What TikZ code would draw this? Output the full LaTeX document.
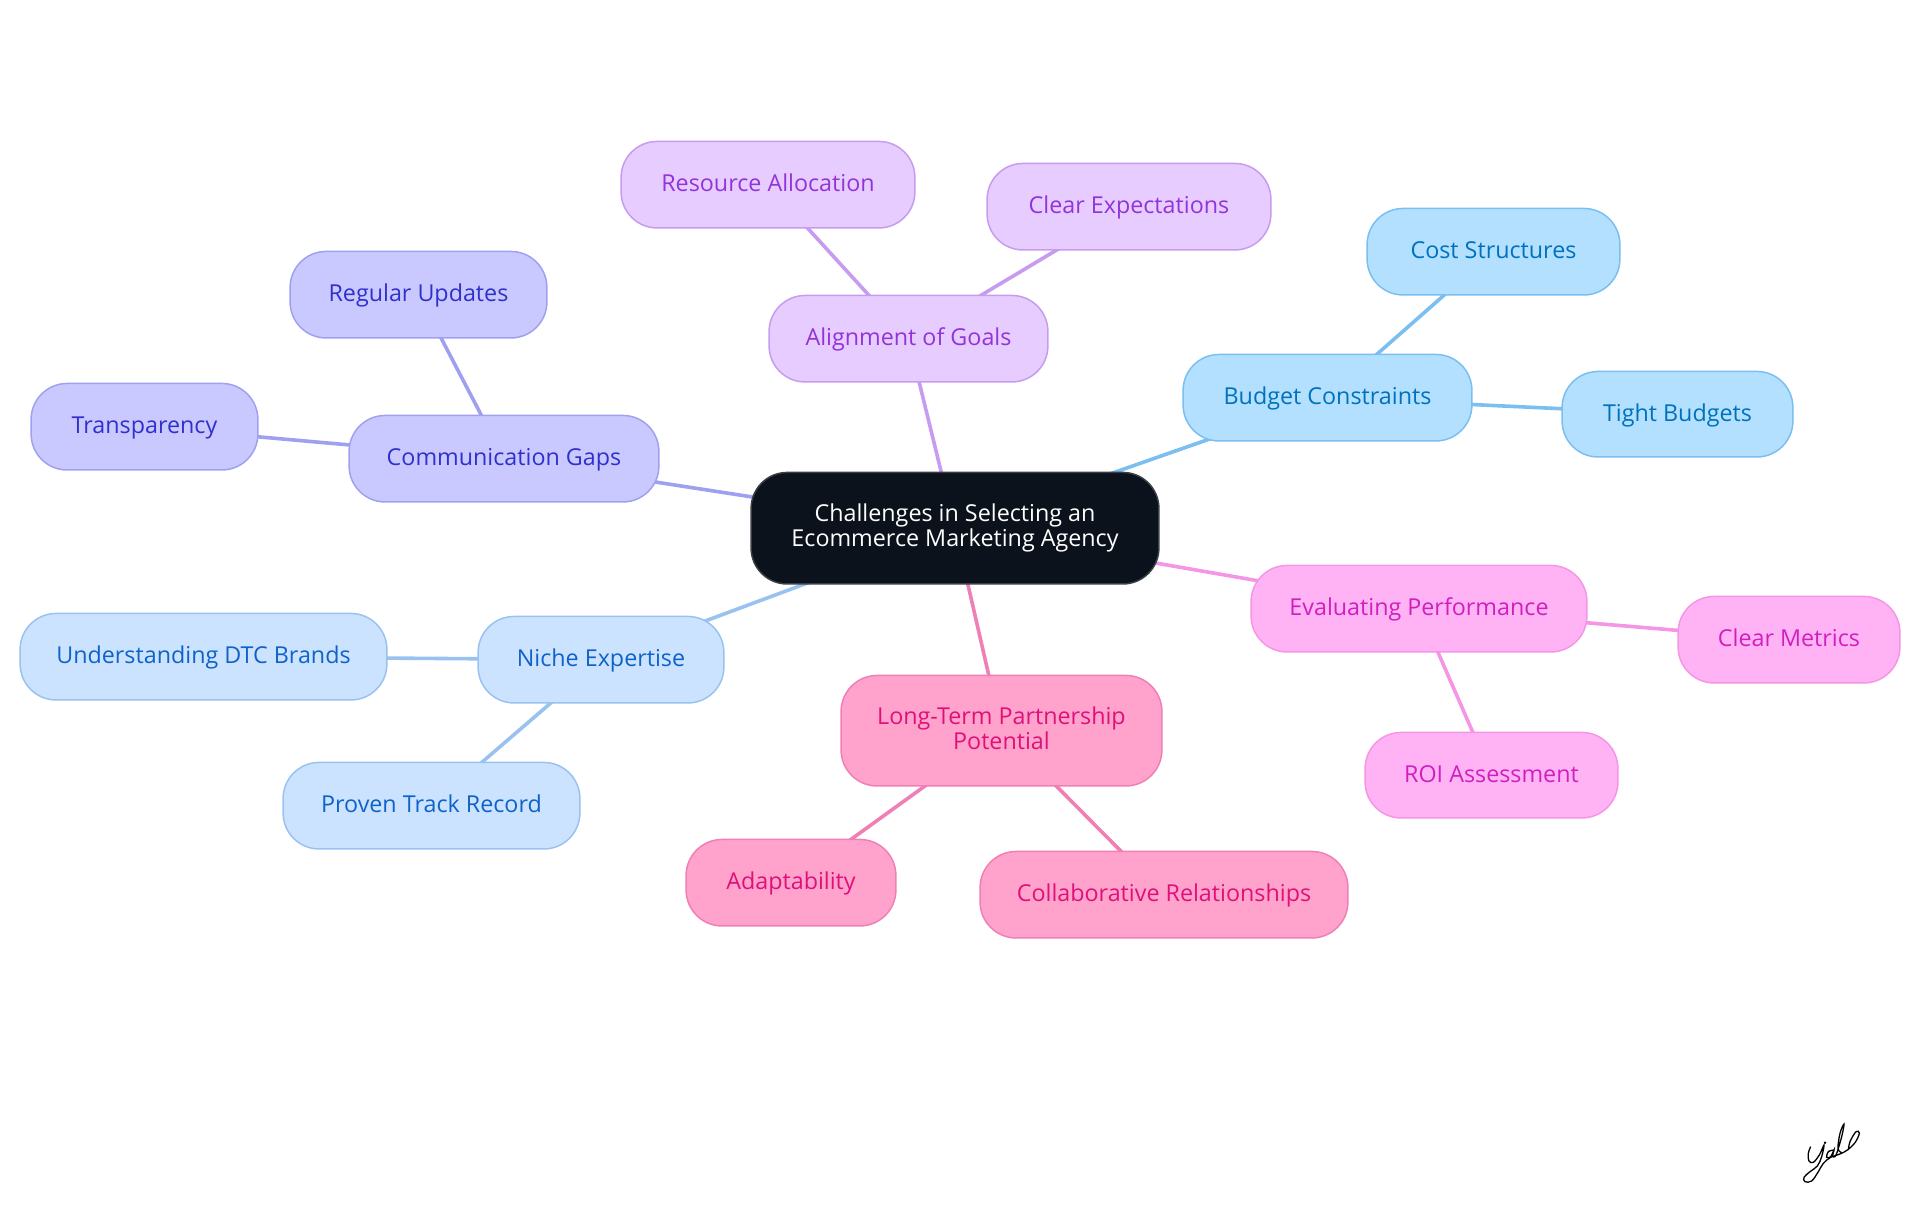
\documentclass[tikz,border=0pt]{standalone}
\usepackage{fontspec}
\setmainfont{Open Sans}
\usetikzlibrary{backgrounds}
\definecolor{bF}{HTML}{B3E0FF}\definecolor{bS}{HTML}{7ABFF0}\definecolor{bT}{HTML}{0071BC}
\definecolor{pF}{HTML}{E6CCFF}\definecolor{pS}{HTML}{C79BEF}\definecolor{pT}{HTML}{9333DB}
\definecolor{iF}{HTML}{C9C9FF}\definecolor{iS}{HTML}{A0A0F0}\definecolor{iT}{HTML}{3030CC}
\definecolor{lF}{HTML}{CCE3FF}\definecolor{lS}{HTML}{99C2F0}\definecolor{lT}{HTML}{0F62C8}
\definecolor{rF}{HTML}{FFA3CC}\definecolor{rS}{HTML}{F07FB5}\definecolor{rT}{HTML}{E0107A}
\definecolor{mF}{HTML}{FFB3F5}\definecolor{mS}{HTML}{F595E5}\definecolor{mT}{HTML}{D01FBF}
\definecolor{kF}{HTML}{0B121B}\definecolor{kS}{HTML}{3A3F46}
\newcommand{\topstrut}{\rule{0pt}{22.5pt}}
\newcommand{\botstrut}{\rule[-8.3pt]{0pt}{8.3pt}}
\newcommand{\lowline}[1]{\raisebox{-2.4pt}{#1}}
\tikzset{
 x=1pt,y=-1pt,
 nd/.style={rectangle,rounded corners=36pt,line width=1.5pt,inner sep=0pt,align=center,yshift=-0.2pt,
  font=\fontsize{23.3}{25}\selectfont,execute at begin node=\topstrut,execute at end node=\botstrut},
 sz/.style 2 args={minimum width=#1pt-0.2pt,minimum height=#2pt-0.5pt},
 bn/.style={nd,fill=bF,draw=bS,text=bT},
 pn/.style={nd,fill=pF,draw=pS,text=pT},
 inn/.style={nd,fill=iF,draw=iS,text=iT},
 ln/.style={nd,fill=lF,draw=lS,text=lT},
 rn/.style={nd,fill=rF,draw=rS,text=rT},
 mn/.style={nd,fill=mF,draw=mS,text=mT},
 kn/.style={nd,fill=kF,draw=kS,text=white},
 ed/.style={line width=3.6pt},
}
\begin{document}
\begin{tikzpicture}
\useasboundingbox (0,0) rectangle (1920,1215);
\node[kn,sz={408}{112}] (root) at (955,528) {\lowline{Challenges in Selecting an}\\\lowline{Ecommerce Marketing Agency}};
\node[bn,sz={289}{87}] (budget) at (1327.5,397.5) {Budget Constraints};
\node[bn,sz={253}{87}] (cost) at (1493.5,251.5) {Cost Structures};
\node[bn,sz={231}{86}] (tight) at (1677.5,414) {Tight Budgets};
\node[pn,sz={279}{87}] (align) at (908.5,338.5) {Alignment of Goals};
\node[pn,sz={294}{87}] (res) at (768,184.5) {Resource Allocation};
\node[pn,sz={284}{87}] (clear) at (1129,206.5) {Clear Expectations};
\node[inn,sz={310}{87}] (comm) at (504,458.5) {Communication Gaps};
\node[inn,sz={257}{87}] (reg) at (418.5,294.5) {Regular Updates};
\node[inn,sz={227}{87}] (trans) at (144.5,426.5) {Transparency};
\node[ln,sz={246}{87}] (niche) at (601,659.5) {Niche Expertise};
\node[ln,sz={367}{87}] (und) at (203.5,656.5) {Understanding DTC Brands};
\node[ln,sz={297}{87}] (prov) at (431.5,805.5) {Proven Track Record};
\node[rn,sz={321}{111}] (long) at (1001.5,730.5) {\lowline{Long-Term Partnership}\\\lowline{Potential}};
\node[rn,sz={210}{87}] (adapt) at (791,882.5) {Adaptability};
\node[rn,sz={368}{87}] (coll) at (1164,894.5) {Collaborative Relationships};
\node[mn,sz={336}{87}] (eval) at (1419,608.5) {Evaluating Performance};
\node[mn,sz={222}{87}] (met) at (1789,639.5) {Clear Metrics};
\node[mn,sz={253}{86}] (roi) at (1491.5,775) {ROI Assessment};
\begin{scope}[on background layer]
\draw[ed,bS] (root.center)--(budget.center) (budget.center)--(cost.center) (budget.center)--(tight.center);
\draw[ed,pS] (root.center)--(align.center) (align.center)--(res.center) (align.center)--(clear.center);
\draw[ed,iS] (root.center)--(comm.center) (comm.center)--(reg.center) (comm.center)--(trans.center);
\draw[ed,lS] (root.center)--(niche.center) (niche.center)--(und.center) (niche.center)--(prov.center);
\draw[ed,rS] (root.center)--(long.center) (long.center)--(adapt.center) (long.center)--(coll.center);
\draw[ed,mS] (root.center)--(eval.center) (eval.center)--(met.center) (eval.center)--(roi.center);
\end{scope}
\begin{scope}[shift={(1760,1100)},x=0.3333pt,y=-0.3333pt,line width=1.3pt,black]
\draw plot[smooth,tension=0.6] coordinates {(152,140)(145,160)(147,183)(160,187)(178,165)(192,135)(185,170)(172,198)(150,215)(132,232)(135,245)(155,243)(175,215)(190,190)(212,172)(240,162)(262,150)(285,128)(298,100)(288,95)(270,125)(265,150)};
\draw plot[smooth,tension=0.6] coordinates {(222,150)(205,155)(200,172)(212,170)(222,150)(218,168)(228,165)(245,110)(252,72)(240,100)(234,145)(245,158)};
\fill (195,128) circle (4);
\end{scope}
\end{tikzpicture}
\end{document}
